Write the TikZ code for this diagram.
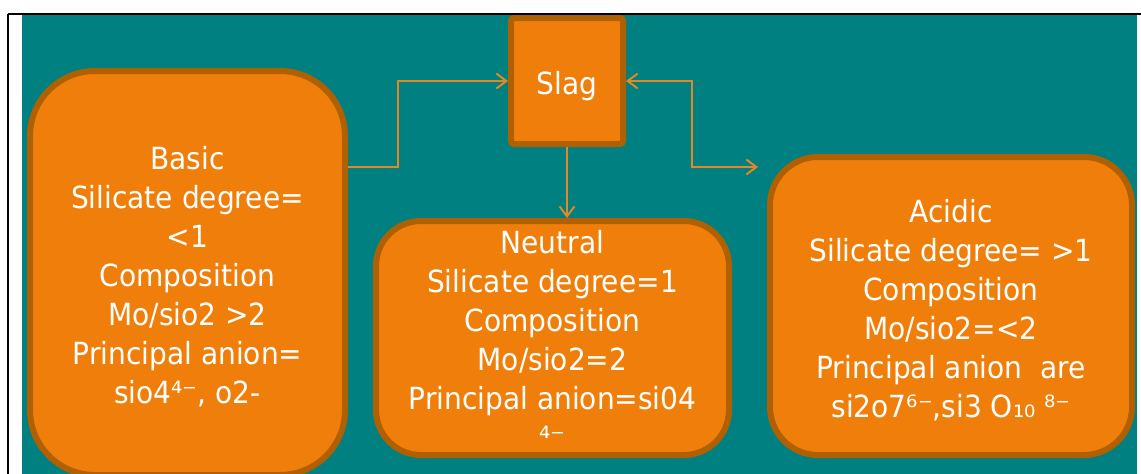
\documentclass[tikz,border=0pt]{standalone}
\usepackage{fontspec}
\setmainfont[FakeStretch=0.92]{DejaVu Sans}
\usetikzlibrary{arrows.meta}
\definecolor{teal1}{RGB}{0,128,128}
\definecolor{ofill}{RGB}{239,127,10}
\definecolor{oline}{RGB}{176,96,0}
\definecolor{conn}{RGB}{226,136,36}
\tikzset{
  box/.style={draw=oline, fill=ofill, line width=6pt, inner sep=0pt},
  txt/.style={text=white, align=center, inner sep=0pt, font=\fontsize{30.5}{39}\selectfont},
  connline/.style={draw=conn, line width=2pt},
  mytip/.tip={Straight Barb[length=10pt,width=15pt,line width=2pt]}
}
\begin{document}
\begin{tikzpicture}[x=1pt,y=-1pt]
\useasboundingbox (0,0) rectangle (1141,474);
\fill[white] (0,0) rectangle (1141,474);
\fill[teal1] (22,14) rectangle (1137,474);
\draw[black, line width=2pt] (7.5,13.5) -- (1141,13.5);
\draw[black, line width=2pt] (7.5,13.5) -- (7.5,474);
% boxes
\node[box, rounded corners=65pt, minimum width=315pt, minimum height=404pt] (basic) at (187.5,273) {};
\node[box, rounded corners=3pt, minimum width=112pt, minimum height=126pt] (slag) at (567,81) {};
\node[box, rounded corners=45pt, minimum width=353pt, minimum height=234pt] (neutral) at (552.5,338) {};
\node[box, rounded corners=48pt, minimum width=362pt, minimum height=298pt] (acidic) at (951,306) {};
% texts
\node[txt] (basicT) at (187.5,277) {Basic\\Silicate degree=\\<1\\Composition\\Mo/sio2 >2\\Principal anion=\\sio4⁴⁻, o2-};
\node[txt] (slagT) at (567,86.5) {Slag};
\node[txt] (neutralT) at (552.5,339) {Neutral\\Silicate degree=1\\Composition\\Mo/sio2=2\\Principal anion=si04\\⁴⁻};
\node[txt] (acidicT) at (951,310.5) {Acidic\\Silicate degree= >1\\Composition\\Mo/sio2=<2\\Principal anion~ are\\si2o7⁶⁻,si3 O₁₀ ⁸⁻};
% connectors
\coordinate (aend) at (758,167);
\draw[connline, -mytip] (basic.east |- 0,167) -- (398,167) |- (slag.west);
\draw[connline, mytip-mytip] (slag.east) -- (692,81) |- (aend);
\draw[connline, -mytip] (slag.south) -- (slag.south |- neutral.north);
\end{tikzpicture}
\end{document}
